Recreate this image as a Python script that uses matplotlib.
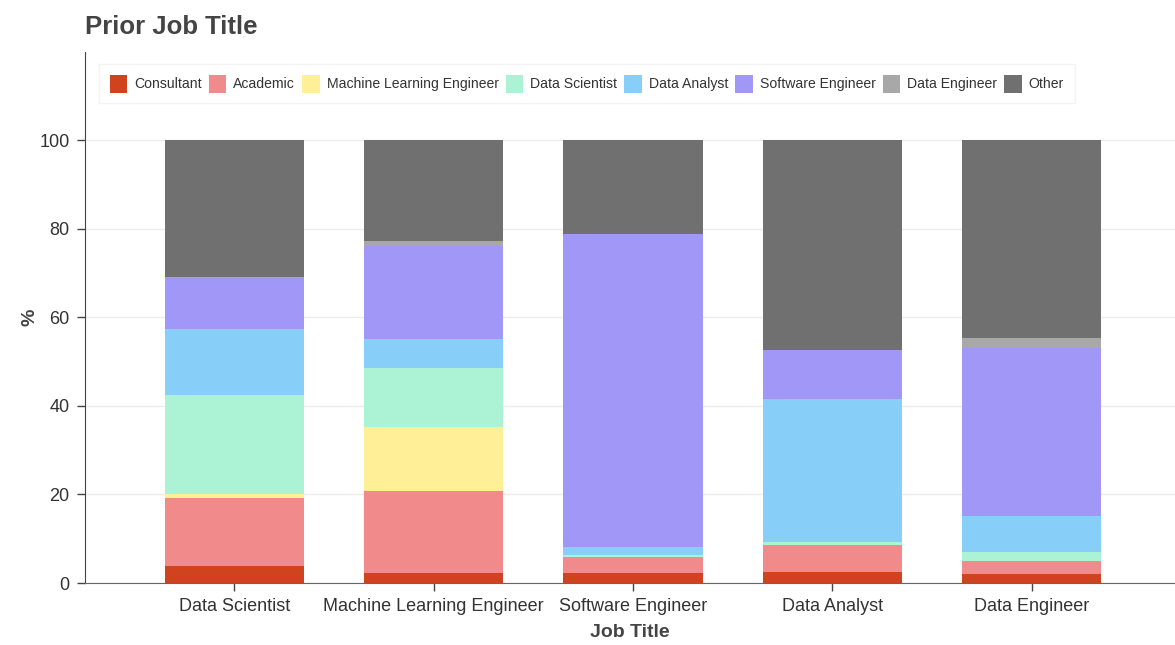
import numpy as np
import matplotlib.pyplot as plt
from matplotlib.patches import Patch

plt.rcParams["font.family"] = ["Liberation Sans", "DejaVu Sans"]

job_titles = ["Data Scientist", "Machine Learning Engineer", "Software Engineer",
              "Data Analyst", "Data Engineer"]
prior_titles = ["Consultant", "Academic", "Machine Learning Engineer", "Data Scientist",
                "Data Analyst", "Software Engineer", "Data Engineer", "Other"]

# share (%) of each prior title, one list per current job title
consultant = [3.8, 2.3, 2.3, 2.4, 2.1]
academic = [15.4, 18.4, 3.6, 6.1, 2.8]
ml_engineer = [0.8, 14.5, 0.0, 0.0, 0.0]
data_scientist = [22.4, 13.3, 0.5, 0.7, 2.0]
data_analyst = [15.0, 6.5, 1.7, 32.4, 8.2]
software_engineer = [11.6, 21.2, 70.7, 11.0, 38.0]
data_engineer = [0.0, 1.1, 0.0, 0.0, 2.2]
other = [31.0, 22.7, 21.2, 47.4, 44.7]

colors = ["#d1431f", "#f08a8b", "#ffef96", "#acf2d5", "#87cef9", "#a097f6",
          "#a8a8a8", "#707070"]

series = [consultant, academic, ml_engineer, data_scientist, data_analyst,
          software_engineer, data_engineer, other]

fig = plt.figure(figsize=(11.75, 6.45), dpi=100)
ax = fig.add_axes([85 / 1175, 62 / 645, 1090 / 1175, 531 / 645])

x = np.arange(len(job_titles))
bottom = np.zeros(len(job_titles))
for vals, col in zip(series, colors):
    vals = np.array(vals)
    ax.bar(x, vals, width=0.7, bottom=bottom, color=col, linewidth=0)
    bottom += vals

ax.set_xlim(-0.75, 4.72)
ax.set_ylim(0, 119.9)
ax.set_yticks([0, 20, 40, 60, 80, 100])
ax.set_xticks(x)
ax.set_xticklabels(job_titles)
ax.grid(axis="y", color="#ececec", linewidth=1)
ax.set_axisbelow(True)

for side in ["top", "right"]:
    ax.spines[side].set_visible(False)
ax.spines["left"].set_color("#444444")
ax.spines["bottom"].set_color("#666666")
ax.tick_params(axis="both", colors="#444444", labelsize=13, length=6, width=1)
ax.tick_params(axis="x", pad=5)
ax.tick_params(axis="y", pad=5)
for lbl in ax.get_xticklabels() + ax.get_yticklabels():
    lbl.set_color("#333333")

ax.set_xlabel("Job Title", fontsize=14, fontweight="bold", color="#444444", labelpad=6)
ax.set_ylabel("%", fontsize=14, fontweight="bold", color="#444444")
ax.yaxis.set_label_coords(-0.043, 0.5)

fig.text(85 / 1175, 1 - 27 / 645, "Prior Job Title", fontsize=18.5, fontweight="bold",
         color="#444444", va="center", ha="left")

handles = [Patch(facecolor=c, edgecolor="none") for c in colors]
leg = ax.legend(handles, prior_titles, loc="upper left", bbox_to_anchor=(0.0065, 0.99),
                ncol=len(prior_titles), frameon=True, fontsize=10.1, handlelength=1.25,
                handleheight=1.6, handletextpad=0.5, columnspacing=0.5,
                borderpad=0.75, fancybox=False, labelcolor="#333333")
leg.get_frame().set_edgecolor("#f0f0f0")
leg.get_frame().set_linewidth(1)

fig.savefig("out.png", dpi=100)
